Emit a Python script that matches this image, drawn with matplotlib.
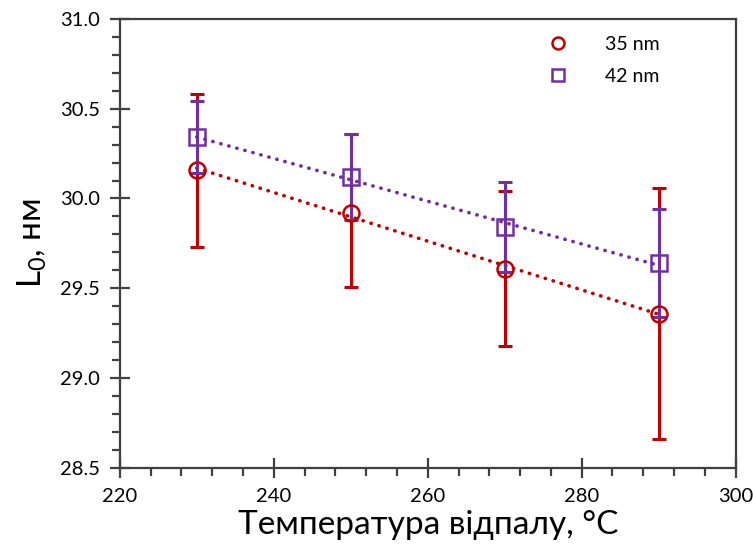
import numpy as np
import matplotlib
matplotlib.use("Agg")
import matplotlib.pyplot as plt
from matplotlib.ticker import MultipleLocator

plt.rcParams['font.family'] = ['Lato', 'DejaVu Sans']
plt.rcParams['mathtext.default'] = 'regular'

temps = [230, 250, 270, 290]
l35 = [30.16, 29.92, 29.61, 29.36]
err35_low = [0.43, 0.41, 0.43, 0.70]
err35_up = [0.42, 0.44, 0.43, 0.70]
l42 = [30.34, 30.12, 29.84, 29.64]
err42 = [0.20, 0.24, 0.25, 0.30]
labels = ['35 nm', '42 nm']
colors = ['#C00000', '#7030A0']

fig = plt.figure(figsize=(7.53, 5.52), dpi=100)
ax = fig.add_axes([0.159, 0.152, 0.818, 0.814])

x = np.array(temps, dtype=float)
series = [(l35, [err35_low, err35_up], labels[0], colors[0], 'o'),
          (l42, err42, labels[1], colors[1], 's')]
for ys, es, lab, col, mk in series:
    k, b = np.polyfit(x, ys, 1)
    xl = np.array([x[0], x[-1]])
    ax.plot(xl, k * xl + b, linestyle=(0, (0.1, 2.2)), color=col, lw=2.6,
            dash_capstyle='round', zorder=2)
    ax.errorbar(x, ys, yerr=es, fmt='none', ecolor=col, elinewidth=2.2,
                capsize=5, capthick=2.2, zorder=3)
    ax.plot(x, ys, linestyle='none', marker=mk, markersize=11.5,
            markerfacecolor='none', markeredgecolor=col, markeredgewidth=1.8,
            label=lab, zorder=4)

ax.set_xlim(220, 300)
ax.set_ylim(28.5, 31.0)
ax.xaxis.set_major_locator(MultipleLocator(20))
ax.xaxis.set_minor_locator(MultipleLocator(4))
ax.yaxis.set_major_locator(MultipleLocator(0.5))
ax.yaxis.set_minor_locator(MultipleLocator(0.1))
ax.yaxis.set_major_formatter(plt.FuncFormatter(lambda v, p: f"{v:.1f}"))

spc = '#404040'
for s in ax.spines.values():
    s.set_color(spc)
    s.set_linewidth(1.6)
ax.tick_params(which='major', direction='inout', length=14, width=1.6, color=spc,
               labelsize=14.5, pad=7)
ax.tick_params(which='minor', direction='out', length=6, width=1.6, color=spc)
ax.tick_params(top=False, right=False, which='both')

ax.set_xlabel('Температура відпалу, °C', fontsize=24, labelpad=4)
ax.set_ylabel('L$_{0}$, нм', fontsize=24, labelpad=8)

leg = ax.legend(loc='upper right', frameon=False, fontsize=14,
                handletextpad=1.4, labelspacing=0.75, bbox_to_anchor=(0.905, 1.0),
                markerscale=0.75)

fig.savefig('out.png', dpi=100)
